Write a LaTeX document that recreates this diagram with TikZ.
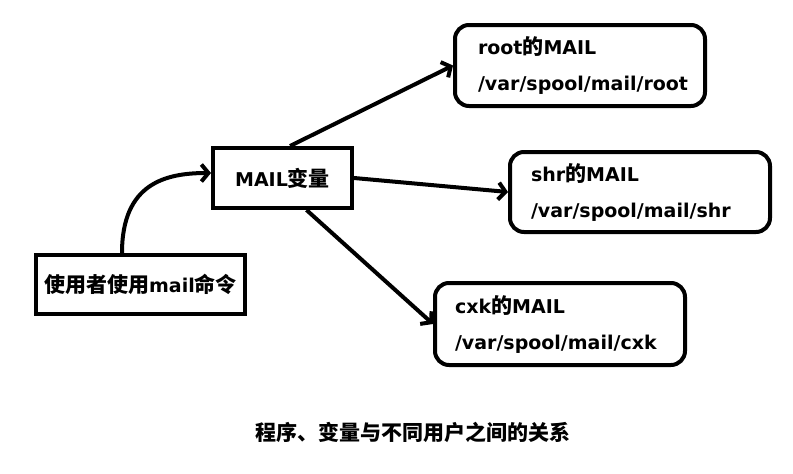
\documentclass[tikz,border=0pt]{standalone}
\usepackage{fontspec}
\setmainfont{DejaVu Sans}
\newfontfamily\cjkfont{Noto Sans CJK SC}
\usetikzlibrary{arrows.meta}
\newcommand\zh[1]{{\cjkfont\bfseries\fontsize{21}{36}\selectfont #1}}
\begin{document}
\begin{tikzpicture}[x=1pt,y=-1pt,
  box/.style={draw, line width=4pt, inner sep=0pt, font=\fontsize{19}{36}\selectfont\bfseries},
  rbox/.style={box, rounded corners=14pt, align=left},
  arr/.style={line width=4pt, -{Straight Barb[length=7pt,width=17pt]}}]
\useasboundingbox (0,0) rectangle (793,474);
\node[box, minimum width=139pt, minimum height=60pt] (mail) at (282.5,178) {MAIL\zh{变量}};
\node[box, minimum width=209pt, minimum height=59pt] (user) at (140.5,284.5) {\zh{使用者使用}mail\zh{命令}};
\node[rbox, minimum width=250pt, minimum height=81pt, text width=204pt] (root) at (580,65.5)
  {root\zh{的}MAIL\\/var/spool/mail/root};
\node[rbox, minimum width=260pt, minimum height=80pt, text width=218pt] (shr) at (640,192)
  {shr\zh{的}MAIL\\/var/spool/mail/shr};
\node[rbox, minimum width=250pt, minimum height=82pt, text width=210pt] (cxk) at (560,324)
  {cxk\zh{的}MAIL\\/var/spool/mail/cxk};
\node[font=\fontsize{20}{24}\selectfont] (cap) at (413,432) {\zh{程序、变量与不同用户之间的关系}};
\draw[arr] ([xshift=-18.5pt]user.north) .. controls +(0,-70) and +(-45,0) .. ([yshift=5pt]mail.west);
\draw[arr] ([xshift=7.5pt]mail.north) -- (root.west);
\draw[arr] (mail.east) -- (shr.west);
\draw[arr] ([xshift=24pt]mail.south) -- (cxk.west);
\end{tikzpicture}
\end{document}
